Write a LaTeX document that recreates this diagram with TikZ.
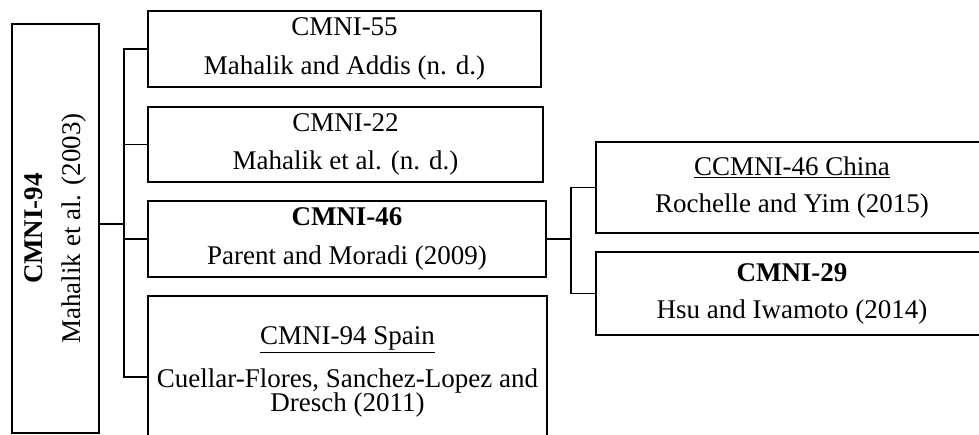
\documentclass[tikz,border=0pt]{standalone}
\usepackage{fontspec}
\setmainfont{Liberation Serif}
\usetikzlibrary{positioning,calc}

\tikzset{
  refbox/.style={draw, line width=1.5pt, inner sep=0pt, align=center, font=\fontsize{27}{38.5}\selectfont},
  link/.style={line width=1.5pt}
}

\begin{document}
\begin{tikzpicture}[x=1pt,y=-1pt]
    \useasboundingbox (0,0) rectangle (979,435);
    \clip (0,0) rectangle (979,435);
    % Root
    \node [refbox, rotate=90, minimum width=409, minimum height=87] (cmni94) at (55.5,228.5) {\textbf{CMNI-94}\\Mahalik et al. (2003)};
    % Versions
    \node [refbox, minimum width=393, minimum height=76] (cmni55) at (344.5,49) {CMNI-55\\Mahalik and Addis (n. d.)};
    \node [refbox, minimum width=395, minimum height=75] (cmni22) at (345.5,144.5) {CMNI-22\\Mahalik et al. (n. d.)};
    \node [refbox, minimum width=398, minimum height=76] (cmni46) at (347,239) {\textbf{CMNI-46}\\Parent and Moradi (2009)};
    \node [refbox, minimum width=399, minimum height=152] (spain) at (347.5,372) {\underline{CMNI-94 Spain}\\[4pt]Cuellar-Flores, Sanchez-Lopez and\\[-14pt]Dresch (2011)};
    % Adaptations of CMNI-46
    \node [refbox, minimum width=392, minimum height=91, font=\fontsize{27}{37}\selectfont] (china) at (792,187.5) {\underline{CCMNI-46 China}\\Rochelle and Yim (2015)};
    \node [refbox, minimum width=392, minimum height=83, font=\fontsize{27}{37}\selectfont] (cmni29) at (792,293.5) {\textbf{CMNI-29}\\Hsu and Iwamoto (2014)};
    % Connectors
    \coordinate (jl) at (124,224);
    \coordinate (jr) at (571,239);
    \draw [link] (jl -| cmni94.south) -- (jl);
    \draw [link] (cmni55.west) -| (jl) |- ([yshift=-5pt]spain.west);
    \draw [link] (cmni22.west) -- (cmni22.west -| jl);
    \draw [link] (cmni46.west) -- (cmni46.west -| jl);
    \draw [link] (cmni46.east) -- (jr);
    \draw [link] (china.west) -| (jr) |- (cmni29.west);
\end{tikzpicture}
\end{document}
